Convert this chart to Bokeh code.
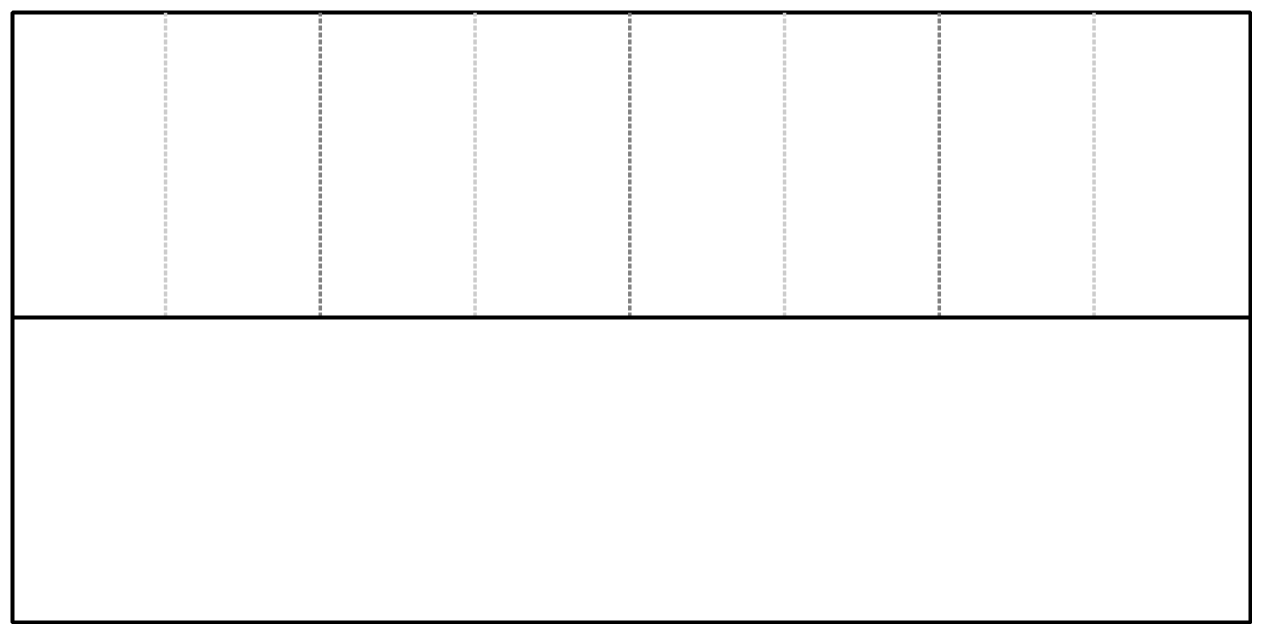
from bokeh.plotting import figure
from bokeh.models import ColumnDataSource, Range1d, Span
from bokeh.embed import file_html
from bokeh.resources import INLINE

# columns of the upper band: light lines at odd slots, dark at even slots
minor_x = [1, 3, 5, 7]
major_x = [2, 4, 6]
n_slots = 8

p = figure(width=1252, height=624,
    x_range=Range1d(0.011, n_slots + 0.011), y_range=Range1d(0, 2),
    output_backend="svg", toolbar_location=None, tools="",
    min_border_left=12, min_border_top=12, min_border_right=2, min_border_bottom=2)

p.xaxis.visible = False
p.yaxis.visible = False
p.grid.visible = False
p.outline_line_color = "black"
p.outline_line_width = 4
p.background_fill_color = "white"

minor = ColumnDataSource(dict(x=minor_x, y0=[1] * len(minor_x), y1=[2] * len(minor_x)))
major = ColumnDataSource(dict(x=major_x, y0=[1] * len(major_x), y1=[2] * len(major_x)))

p.segment(x0="x", y0="y0", x1="x", y1="y1", source=minor,
    line_color="#cccccc", line_width=3.5, line_dash="5 2")
p.segment(x0="x", y0="y0", x1="x", y1="y1", source=major,
    line_color="#808080", line_width=3.5, line_dash="5 2")

# divider between the two bands
p.add_layout(Span(location=1, dimension="width", line_color="black", line_width=4))

open("out.html", "w").write(file_html(p, INLINE))
